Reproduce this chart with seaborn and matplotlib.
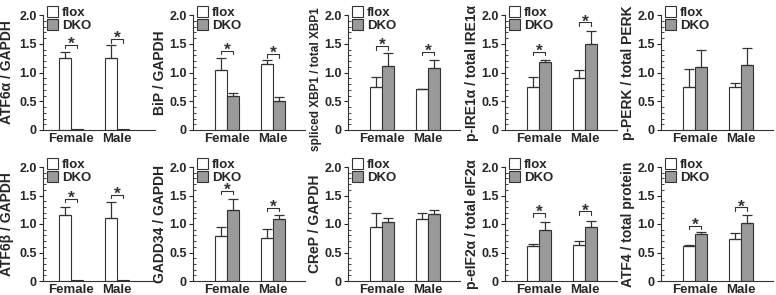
import matplotlib
matplotlib.use('Agg')
import matplotlib.pyplot as plt
from matplotlib.patches import Patch
from matplotlib.ticker import MultipleLocator
import seaborn as sns
import pandas as pd

sns.set_style('ticks')
plt.rcParams['font.family'] = ['Liberation Sans', 'DejaVu Sans']
plt.rcParams['font.weight'] = 'bold'
plt.rcParams['axes.labelweight'] = 'bold'

# values (mean, upper error) for Female / Male
sexes = ['Female', 'Male']
ylabels = ['ATF6α / GAPDH', 'BiP / GAPDH', 'spliced XBP1 / total XBP1',
           'p-IRE1α / total IRE1α', 'p-PERK / total PERK',
           'ATF6β / GAPDH', 'GADD34 / GAPDH', 'CReP / GAPDH',
           'p-eIF2α / total eIF2α', 'ATF4 / total protein']
flox_mean = [[1.25, 1.26], [1.05, 1.14], [0.74, 0.71], [0.74, 0.90], [0.74, 0.74],
             [1.15, 1.11], [0.79, 0.75], [0.94, 1.08], [0.61, 0.64], [0.61, 0.73]]
flox_err = [[0.11, 0.21], [0.20, 0.08], [0.18, 0.01], [0.18, 0.14], [0.32, 0.07],
            [0.14, 0.28], [0.16, 0.16], [0.26, 0.12], [0.04, 0.06], [0.03, 0.12]]
dko_mean = [[0.01, 0.01], [0.60, 0.51], [1.11, 1.07], [1.18, 1.50], [1.10, 1.13],
            [0.01, 0.01], [1.25, 1.09], [1.04, 1.18], [0.90, 0.95], [0.82, 1.01]]
dko_err = [[0.0, 0.0], [0.04, 0.06], [0.23, 0.15], [0.03, 0.23], [0.29, 0.29],
           [0.0, 0.0], [0.19, 0.07], [0.06, 0.06], [0.13, 0.11], [0.04, 0.15]]
sig_height = [[1.48, 1.58], [1.38, 1.32], [1.46, 1.36], [1.36, 1.87], None,
              [1.44, 1.51], [1.58, 1.28], None, [1.19, 1.22], [0.97, 1.29]]

W, H = 776, 295
fig = plt.figure(figsize=(W / 100, H / 100), dpi=100)
spine_x = [43, 193, 348, 505, 661]
row_top = [15, 167]
row_bot = [130, 281]
ax_w = 112
first_offset = [28, 34, 34, 34, 34]
label_gap = [29, 26, 26, 26, 26]
group_px = 46
ink = '#333333'

for i, label in enumerate(ylabels):
    r, c = divmod(i, 5)
    ax = fig.add_axes([spine_x[c] / W, (H - row_bot[r]) / H, ax_w / W,
                       (row_bot[r] - row_top[r]) / H])
    df = pd.DataFrame({
        'sex': sexes * 2,
        'genotype': ['flox'] * 2 + ['DKO'] * 2,
        'value': flox_mean[i] + dko_mean[i],
    })
    sns.barplot(data=df, x='sex', y='value', hue='genotype', hue_order=['flox', 'DKO'],
                palette=['white', '#9a9a9a'], edgecolor=ink, linewidth=0.8,
                width=0.52, gap=0, errorbar=None, legend=False, ax=ax)

    # bars come out as flox F, flox M, DKO F, DKO M
    bars = ax.patches[:4]
    errs = flox_err[i] + dko_err[i]
    for b, e in zip(bars, errs):
        xc = b.get_x() + b.get_width() / 2
        top = b.get_height()
        if e > 0:
            ax.errorbar(xc, top, yerr=[[0], [e]], color=ink, lw=0.9,
                        capsize=3.5, capthick=0.9)

    if sig_height[i] is not None:
        for k in range(2):
            x0 = bars[k].get_x() + bars[k].get_width() / 2
            x1 = bars[k + 2].get_x() + bars[k + 2].get_width() / 2
            h = sig_height[i][k]
            ax.plot([x0, x0, x1, x1], [h - 0.06, h, h, h - 0.06], color=ink, lw=0.8)
            ax.text((x0 + x1) / 2, h - 0.07, '*', ha='center', va='baseline',
                    fontsize=12.5, color=ink)

    left = -first_offset[c] / group_px
    ax.set_xlim(left, left + ax_w / group_px)
    ax.set_ylim(0, 2.0)
    ax.yaxis.set_minor_locator(MultipleLocator(0.1))
    ax.set_yticks([0, 0.5, 1.0, 1.5, 2.0])
    ax.set_yticklabels(['0', '0.5', '1.0', '1.5', '2.0'])
    ax.tick_params(axis='y', which='major', direction='out', length=3, width=0.8,
                   labelsize=9, pad=1.5)
    ax.tick_params(axis='y', which='minor', direction='in', length=2, width=0.6)
    ax.tick_params(axis='x', length=0, labelsize=9.5, pad=2)
    for t in ax.get_xticklabels() + ax.get_yticklabels():
        t.set_fontweight('bold')
    sns.despine(ax=ax)
    for s in ['left', 'bottom']:
        ax.spines[s].set_linewidth(0.8)
        ax.spines[s].set_color(ink)
    ax.set_xlabel('')
    long_label = len(label) > 22
    ax.set_ylabel(label, fontsize=8.5 if long_label else 10, fontweight='bold')
    ax.yaxis.set_label_coords(-label_gap[c] / ax_w, 0.44 if long_label else 0.5)

    handles = [Patch(facecolor='white', edgecolor=ink, lw=0.8, label='flox'),
               Patch(facecolor='#9a9a9a', edgecolor=ink, lw=0.8, label='DKO')]
    ax.legend(handles=handles, loc='upper left', bbox_to_anchor=(0.035, 1.075),
              frameon=False, handlelength=0.85, handleheight=0.85,
              handletextpad=0.3, labelspacing=0.0, borderpad=0, borderaxespad=0,
              prop={'weight': 'bold', 'size': 9.5})

fig.savefig('out.png', dpi=100)
